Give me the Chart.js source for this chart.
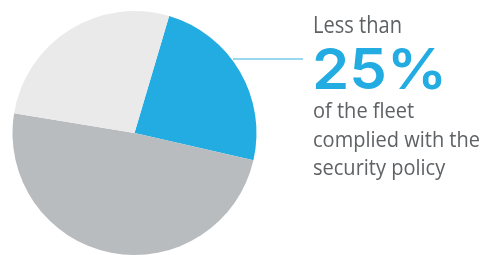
<!DOCTYPE html>
<html>
<head>
<meta charset="utf-8">
<script src="https://cdn.jsdelivr.net/npm/chart.js@4"></script>
<style>
  html, body { margin: 0; padding: 0; background: #fff; }
  #wrap { position: relative; width: 483px; height: 255px; overflow: hidden; }
  #c { position: absolute; left: 0; top: 0; }
  .t { position: absolute; left: 313px; font-family: "Open Sans", sans-serif; color: #5f6265; white-space: nowrap; line-height: 1; transform-origin: left top; }
  #big { position: absolute; left: 312px; font-family: Inter, sans-serif; font-weight: 600; color: #23ACE1; white-space: nowrap; line-height: 1; transform-origin: left top; }
</style>
</head>
<body>
<div id="wrap">
  <canvas id="c" width="483" height="255"></canvas>
  <div class="t" id="l1" style="top:12px;font-size:24px;">Less than</div>
  <div id="big" style="top:41px;font-size:56px;">25%</div>
  <div class="t b" style="top:100px;font-size:21px;">of the fleet</div>
  <div class="t b" id="l3" style="top:129px;font-size:21px;">complied with the</div>
  <div class="t b" style="top:157px;font-size:21px;">security policy</div>
</div>
<script>
const categories = ["Complied", "Did not comply (major share)", "Did not comply (other)"];
const values = [24, 49, 27];
const colors = ["#23ACE1", "#B8BCBF", "#EAEAEA"];

const calloutLine = {
  id: 'calloutLine',
  afterDraw(chart) {
    const ctx = chart.ctx;
    ctx.save();
    ctx.strokeStyle = "#9AD8F0";
    ctx.lineWidth = 2;
    ctx.beginPath();
    ctx.moveTo(233, 59);
    ctx.lineTo(303, 59);
    ctx.stroke();
    ctx.restore();
  }
};

new Chart(document.getElementById('c'), {
  type: 'pie',
  data: {
    labels: categories,
    datasets: [{ data: values, backgroundColor: colors, borderWidth: 0 }]
  },
  options: {
    responsive: false,
    animation: false,
    rotation: 16.5,
    layout: { padding: { left: 12, right: 226, top: 11, bottom: 0 } },
    plugins: { legend: { display: false }, tooltip: { enabled: false } }
  },
  plugins: [calloutLine]
});

function fit(el, target) {
  const w = el.getBoundingClientRect().width;
  return target / w;
}
const big = document.getElementById('big');
big.style.transform = 'scaleX(' + fit(big, 135) + ')';
const l1 = document.getElementById('l1');
l1.style.transform = 'scaleX(' + fit(l1, 89) + ')';
const s = fit(document.getElementById('l3'), 167);
document.querySelectorAll('.b').forEach(e => e.style.transform = 'scaleX(' + s + ')');
</script>
</body>
</html>
